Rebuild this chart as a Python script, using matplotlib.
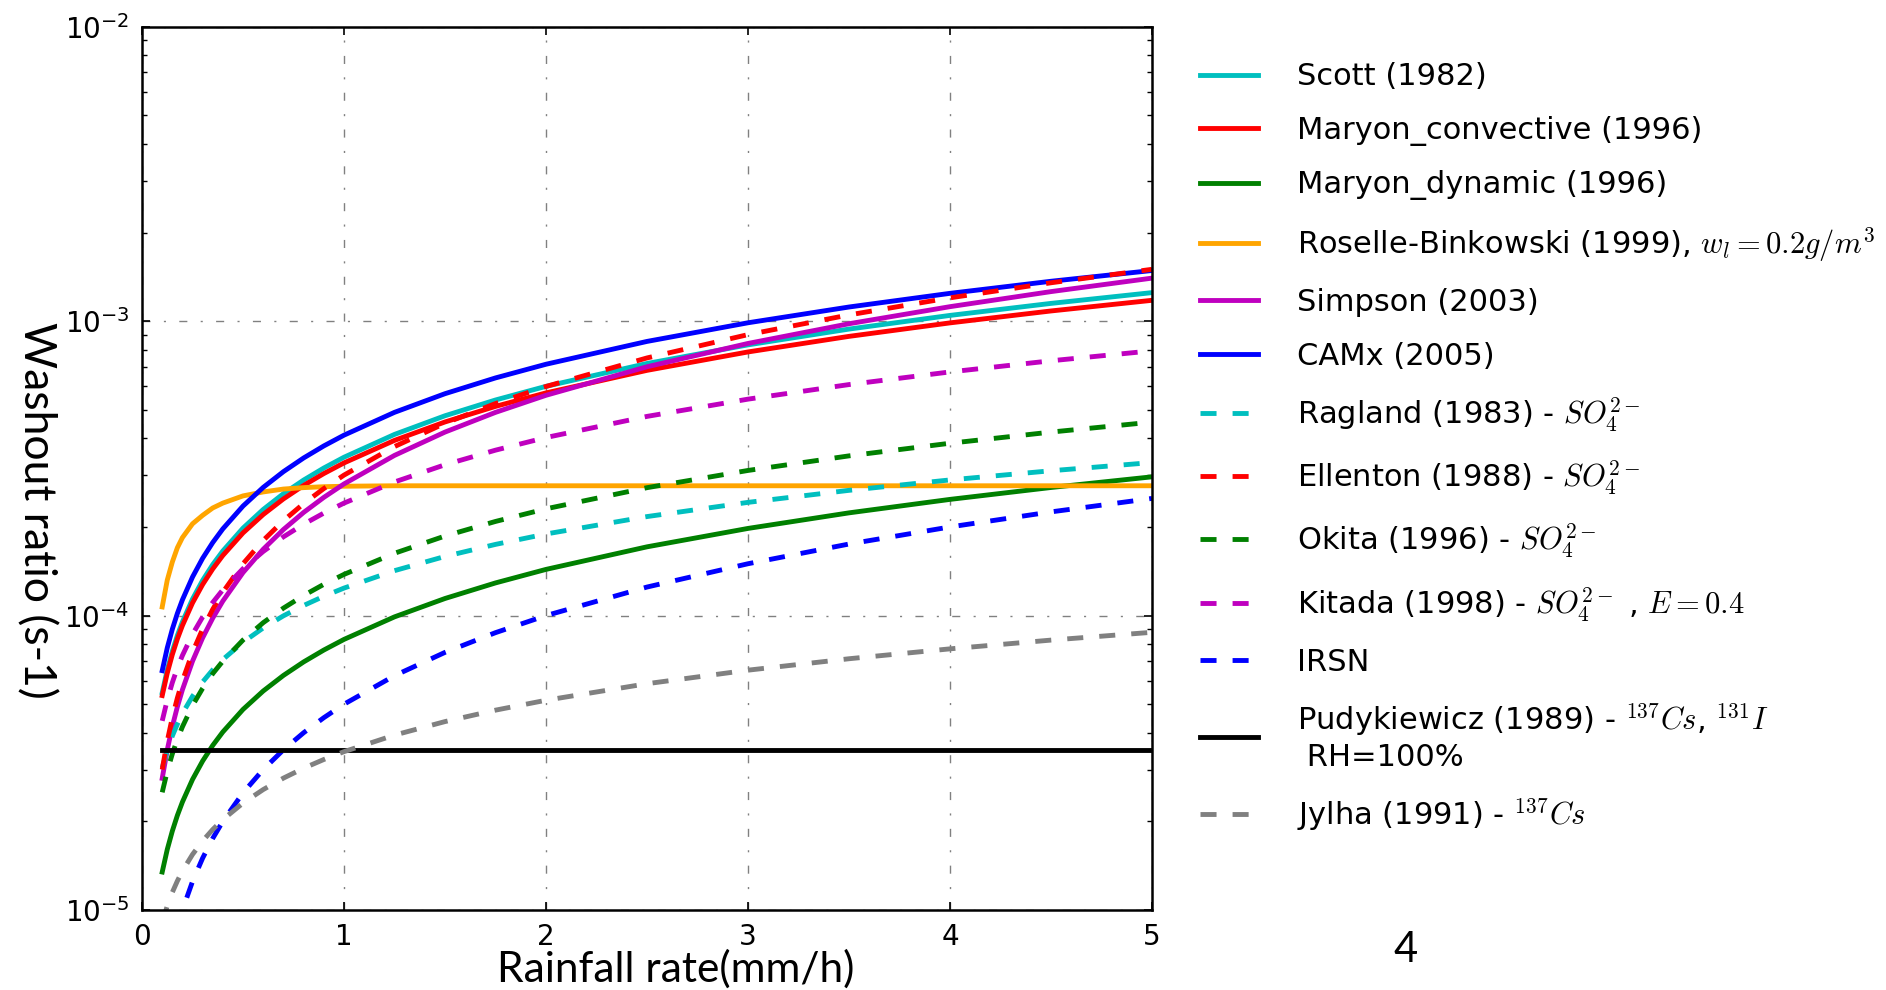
import matplotlib
matplotlib.use('Agg')
import matplotlib.pyplot as plt
from matplotlib.ticker import LogLocator, NullFormatter

plt.rcParams['font.family'] = 'DejaVu Sans'
plt.rcParams['mathtext.fontset'] = 'cm'

# rainfall rate (mm/h) and washout coefficients (s-1) for each scheme
rain = [0.1, 0.125, 0.15, 0.175, 0.2, 0.25, 0.3, 0.35, 0.4, 0.5, 0.6, 0.7, 0.8, 0.9,
        1.0, 1.25, 1.5, 1.75, 2.0, 2.5, 3.0, 3.5, 4.0, 4.5, 5.0]

scott = [5.47e-5, 6.54e-5, 7.56e-5, 8.56e-5, 9.52e-5, 1.138e-4, 1.317e-4, 1.490e-4, 1.657e-4,
         1.982e-4, 2.293e-4, 2.594e-4, 2.886e-4, 3.171e-4, 3.45e-4, 4.124e-4, 4.772e-4,
         5.398e-4, 6.007e-4, 7.181e-4, 8.308e-4, 9.399e-4, 1.046e-3, 1.149e-3, 1.250e-3]
maryon_conv = [5.35e-5, 6.38e-5, 7.37e-5, 8.33e-5, 9.25e-5, 1.104e-4, 1.275e-4, 1.440e-4,
               1.600e-4, 1.909e-4, 2.204e-4, 2.490e-4, 2.767e-4, 3.036e-4, 3.30e-4, 3.936e-4,
               4.546e-4, 5.135e-4, 5.706e-4, 6.806e-4, 7.860e-4, 8.878e-4, 9.866e-4,
               1.083e-3, 1.177e-3]
maryon_dyn = [1.346e-5, 1.606e-5, 1.854e-5, 2.095e-5, 2.327e-5, 2.776e-5, 3.206e-5, 3.622e-5,
              4.024e-5, 4.800e-5, 5.544e-5, 6.262e-5, 6.959e-5, 7.637e-5, 8.30e-5, 9.90e-5,
              1.143e-4, 1.291e-4, 1.435e-4, 1.712e-4, 1.977e-4, 2.233e-4, 2.481e-4,
              2.723e-4, 2.960e-4]
roselle = [1.07e-4, 1.32e-4, 1.52e-4, 1.70e-4, 1.84e-4, 2.05e-4, 2.19e-4, 2.32e-4, 2.41e-4,
           2.55e-4, 2.63e-4, 2.69e-4, 2.72e-4, 2.74e-4, 2.75e-4, 2.76e-4, 2.76e-4, 2.76e-4,
           2.76e-4, 2.76e-4, 2.76e-4, 2.76e-4, 2.76e-4, 2.76e-4, 2.76e-4]
simpson = [2.8e-5, 3.5e-5, 4.2e-5, 4.9e-5, 5.6e-5, 7.0e-5, 8.4e-5, 9.8e-5, 1.12e-4, 1.4e-4,
           1.68e-4, 1.96e-4, 2.24e-4, 2.52e-4, 2.8e-4, 3.5e-4, 4.2e-4, 4.9e-4, 5.6e-4,
           7.0e-4, 8.4e-4, 9.8e-4, 1.12e-3, 1.26e-3, 1.40e-3]
camx = [6.50e-5, 7.77e-5, 8.99e-5, 1.017e-4, 1.131e-4, 1.352e-4, 1.565e-4, 1.770e-4, 1.970e-4,
        2.355e-4, 2.725e-4, 3.082e-4, 3.430e-4, 3.769e-4, 4.10e-4, 4.901e-4, 5.671e-4,
        6.415e-4, 7.139e-4, 8.534e-4, 9.874e-4, 1.117e-3, 1.243e-3, 1.366e-3, 1.486e-3]
ragland = [3.04e-5, 3.49e-5, 3.90e-5, 4.28e-5, 4.65e-5, 5.32e-5, 5.95e-5, 6.54e-5, 7.09e-5,
           8.12e-5, 9.08e-5, 9.98e-5, 1.082e-4, 1.163e-4, 1.24e-4, 1.421e-4, 1.588e-4,
           1.745e-4, 1.893e-4, 2.169e-4, 2.424e-4, 2.663e-4, 2.889e-4, 3.104e-4, 3.310e-4]
ellenton = [3.0e-5, 3.75e-5, 4.5e-5, 5.25e-5, 6.0e-5, 7.5e-5, 9.0e-5, 1.05e-4, 1.2e-4, 1.5e-4,
            1.8e-4, 2.1e-4, 2.4e-4, 2.7e-4, 3.0e-4, 3.75e-4, 4.5e-4, 5.25e-4, 6.0e-4,
            7.5e-4, 9.0e-4, 1.05e-3, 1.2e-3, 1.35e-3, 1.5e-3]
okita = [2.51e-5, 2.96e-5, 3.39e-5, 3.80e-5, 4.19e-5, 4.95e-5, 5.66e-5, 6.35e-5, 7.00e-5,
         8.26e-5, 9.46e-5, 1.060e-4, 1.170e-4, 1.277e-4, 1.38e-4, 1.628e-4, 1.863e-4,
         2.088e-4, 2.305e-4, 2.719e-4, 3.111e-4, 3.487e-4, 3.849e-4, 4.200e-4, 4.541e-4]
kitada = [4.39e-5, 5.17e-5, 5.92e-5, 6.64e-5, 7.32e-5, 8.64e-5, 9.89e-5, 1.108e-4, 1.223e-4,
          1.443e-4, 1.651e-4, 1.851e-4, 2.043e-4, 2.229e-4, 2.41e-4, 2.843e-4, 3.253e-4,
          3.646e-4, 4.025e-4, 4.748e-4, 5.434e-4, 6.090e-4, 6.723e-4, 7.335e-4, 7.930e-4]
irsn = [5.0e-6, 6.25e-6, 7.5e-6, 8.75e-6, 1.0e-5, 1.25e-5, 1.5e-5, 1.75e-5, 2.0e-5, 2.5e-5,
        3.0e-5, 3.5e-5, 4.0e-5, 4.5e-5, 5.0e-5, 6.25e-5, 7.5e-5, 8.75e-5, 1.0e-4, 1.25e-4,
        1.5e-4, 1.75e-4, 2.0e-4, 2.25e-4, 2.5e-4]
pudykiewicz = [3.5e-5] * len(rain)
jylha = [9.07e-6, 1.033e-5, 1.148e-5, 1.255e-5, 1.357e-5, 1.544e-5, 1.716e-5, 1.877e-5,
         2.028e-5, 2.308e-5, 2.565e-5, 2.805e-5, 3.031e-5, 3.245e-5, 3.45e-5, 3.927e-5,
         4.365e-5, 4.773e-5, 5.157e-5, 5.870e-5, 6.525e-5, 7.135e-5, 7.709e-5, 8.255e-5,
         8.775e-5]

series = [
    (scott, 'Scott (1982)', (0, 0.75, 0.75), '-'),
    (maryon_conv, 'Maryon_convective (1996)', 'r', '-'),
    (maryon_dyn, 'Maryon_dynamic (1996)', (0, 0.5, 0), '-'),
    (roselle, 'Roselle-Binkowski (1999), $w_l=0.2g/m^3$', 'orange', '-'),
    (simpson, 'Simpson (2003)', (0.75, 0, 0.75), '-'),
    (camx, 'CAMx (2005)', 'b', '-'),
    (ragland, 'Ragland (1983) - $SO_4^{2-}$', (0, 0.75, 0.75), '--'),
    (ellenton, 'Ellenton (1988) - $SO_4^{2-}$', 'r', '--'),
    (okita, 'Okita (1996) - $SO_4^{2-}$', (0, 0.5, 0), '--'),
    (kitada, 'Kitada (1998) - $SO_4^{2-}$ , $E=0.4$', (0.75, 0, 0.75), '--'),
    (irsn, 'IRSN', 'b', '--'),
    (pudykiewicz, 'Pudykiewicz (1989) - $^{137}Cs$, $^{131}I$\n RH=100%', 'k', '-'),
    (jylha, 'Jylha (1991) - $^{137}Cs$', '0.5', '--'),
]

fig = plt.figure(figsize=(18.86, 9.9), dpi=100)
ax = fig.add_axes([0.0753, 0.0808, 0.5355, 0.8922])

for vals, label, color, ls in series:
    line, = ax.plot(rain, vals, color=color, linestyle=ls, lw=3.5, label=label)
    if ls == '--':
        line.set_dashes((3.3, 3.3))

ax.set_yscale('log')
ax.set_xlim(0, 5)
ax.set_ylim(1e-5, 1e-2)
ax.yaxis.set_major_locator(LogLocator(base=10, numticks=10))
ax.yaxis.set_minor_locator(LogLocator(base=10, subs=range(2, 10), numticks=10))
ax.yaxis.set_minor_formatter(NullFormatter())
ax.tick_params(which='both', direction='in', top=True, right=True, labelsize=20, pad=9)
ax.tick_params(which='major', length=6, width=1.2)
ax.tick_params(which='minor', length=3.5, width=1)
for sp in ax.spines.values():
    sp.set_linewidth(1.8)
ax.grid(True, which='major', color='0.5', lw=1, linestyle=(0, (5.8, 9.6, 1.5, 9.6)))

fig.legend(loc='upper left', bbox_to_anchor=(0.6363, 0.937), frameon=False,
           fontsize=22, handlelength=1.9, handletextpad=1.27, labelspacing=0.8,
           borderpad=0, borderaxespad=0)

fig.text(0.019, 0.484, 'Washout ratio (s-1)', rotation=270, ha='center', va='center',
         family='Lato', fontsize=32)
fig.text(0.3584, 0.008, 'Rainfall rate(mm/h)', ha='center', va='baseline',
         family='Lato', fontsize=30.5)
fig.text(0.745, 0.040, '4', ha='center', va='center', family='Lato', fontsize=30)

fig.savefig('out.png', dpi=100)
